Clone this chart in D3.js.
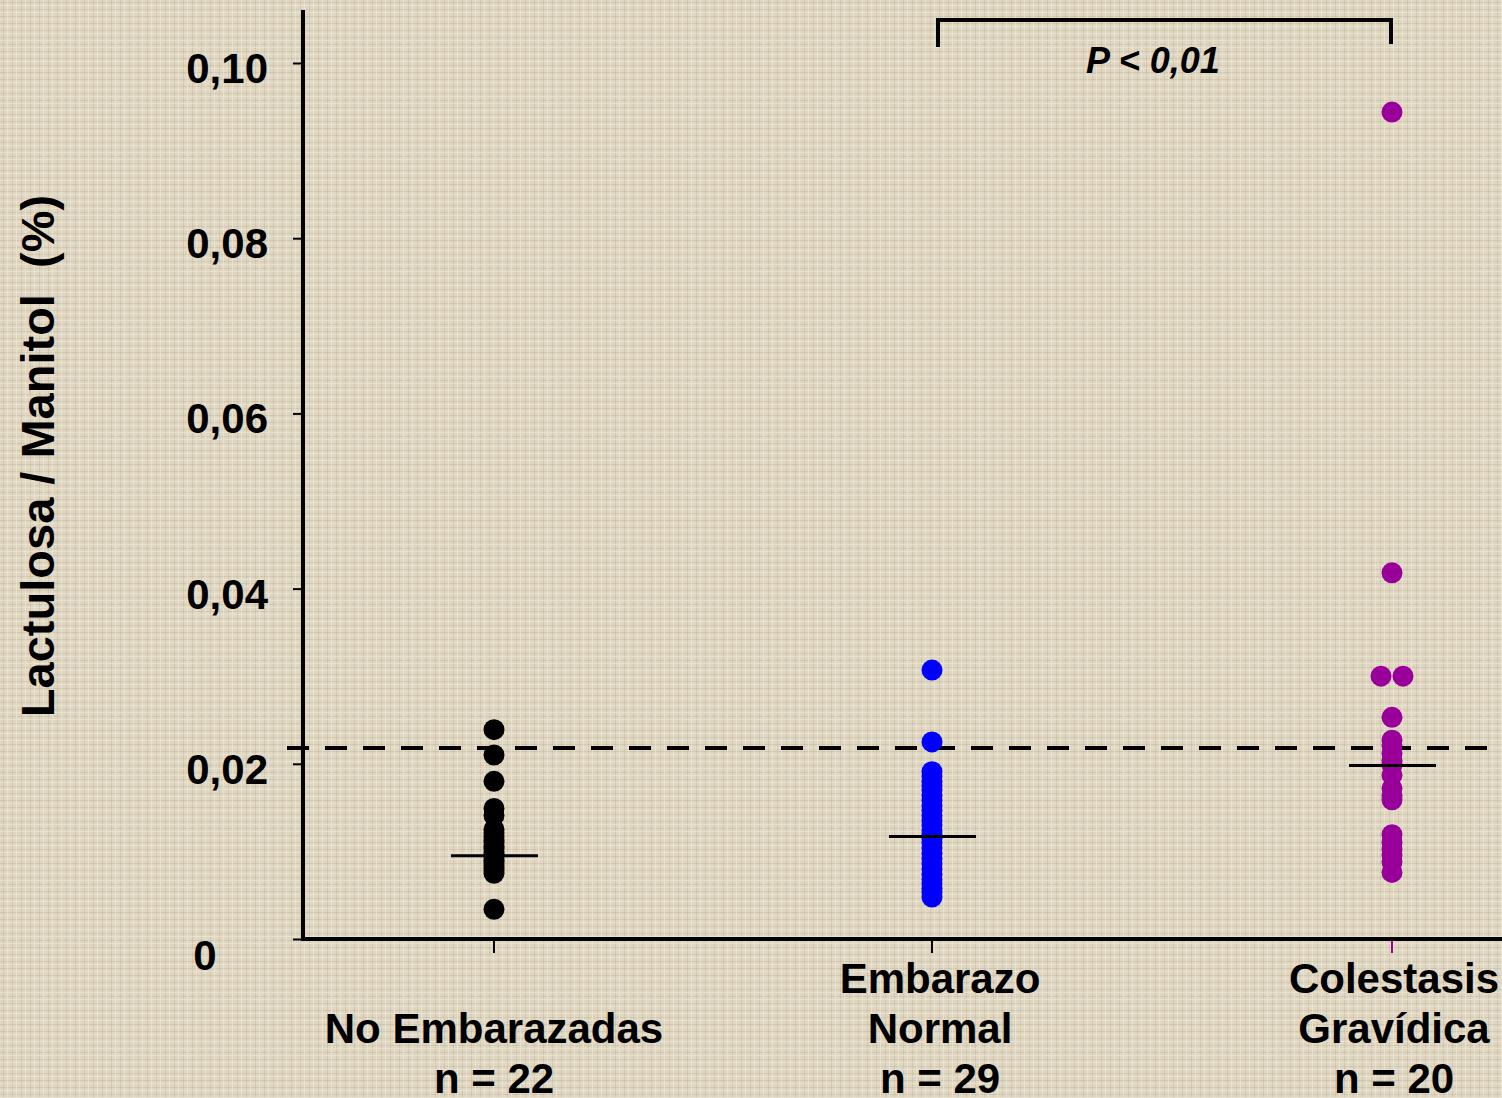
<!DOCTYPE html>
<html>
<head>
<meta charset="utf-8">
<script src="https://cdn.jsdelivr.net/npm/d3@7"></script>
<style>
  html, body { margin: 0; padding: 0; background: #ddd4bf; }
  svg { display: block; }
  text { font-family: "Liberation Sans", Arial, sans-serif; font-weight: bold; fill: #000; }
</style>
</head>
<body>
<script>
// ---- data ----
const categories = ["No Embarazadas", "Embarazo Normal", "Colestasis Gravídica"];
const labelLines = [["No Embarazadas", "n = 22"], ["Embarazo", "Normal", "n = 29"], ["Colestasis", "Gravídica", "n = 20"]];
const colors = ["#000000", "#0000ff", "#990099"];

const noEmbarazadas = [0.0239, 0.0210, 0.0180, 0.0149, 0.0141, 0.0125, 0.0121, 0.0117, 0.0113, 0.0110,
  0.0106, 0.0103, 0.0099, 0.0096, 0.0093, 0.0090, 0.0087, 0.0084, 0.0081, 0.0078, 0.0075, 0.0034];
const embarazoNormal = [0.0307, 0.0225, 0.0191, 0.0186, 0.0180, 0.0175, 0.0170, 0.0164, 0.0158, 0.0152,
  0.0147, 0.0141, 0.0135, 0.0130, 0.0124, 0.0119, 0.0115, 0.0110, 0.0104, 0.0098, 0.0092, 0.0086,
  0.0080, 0.0074, 0.0068, 0.0063, 0.0058, 0.0053, 0.0048];
const colestasis = [0.0944, 0.0418, 0.0300, 0.0300, 0.0253, 0.0227, 0.0221, 0.0212, 0.0204, 0.0199,
  0.0187, 0.0172, 0.0164, 0.0159, 0.0119, 0.0110, 0.0102, 0.0096, 0.0088, 0.0076];
const groups = [noEmbarazadas, embarazoNormal, colestasis];
const centerLines = [0.0095, 0.0117, 0.0198];
const referenceLine = 0.0218;
const yTicks = [0, 0.02, 0.04, 0.06, 0.08, 0.10];
const yTickLabels = ["0", "0,02", "0,04", "0,06", "0,08", "0,10"];
const pLabel = "P < 0,01";
const yTitle = "Lactulosa / Manitol\u00a0\u00a0(%)";

// ---- layout ----
const W = 1502, H = 1098;
const svg = d3.select("body").append("svg").attr("width", W).attr("height", H);

// background texture
const defs = svg.append("defs");
const pat = defs.append("pattern").attr("id", "linen").attr("width", 9).attr("height", 7)
  .attr("patternUnits", "userSpaceOnUse");
pat.append("rect").attr("width", 9).attr("height", 7).attr("fill", "#e0d7c3");
pat.append("rect").attr("x", 0).attr("y", 2).attr("width", 9).attr("height", 1).attr("fill", "#c9bda2").attr("opacity", 0.6);
pat.append("rect").attr("x", 3).attr("y", 0).attr("width", 1).attr("height", 7).attr("fill", "#c6b99d").attr("opacity", 0.55);
pat.append("rect").attr("x", 7).attr("y", 0).attr("width", 1).attr("height", 7).attr("fill", "#efe9dc").attr("opacity", 0.6);
pat.append("rect").attr("x", 0).attr("y", 5).attr("width", 9).attr("height", 1).attr("fill", "#ede7d8").attr("opacity", 0.6);
svg.append("rect").attr("width", W).attr("height", H).attr("fill", "url(#linen)");

const y = d3.scaleLinear().domain([0, 0.10]).range([939, 63]);
const x = d3.scaleOrdinal().domain(categories).range([494, 932, 1392]);
const axisX0 = 303, axisRight = W;

// y axis ticks (small, thin)
const yAxis = d3.axisLeft(y).tickValues(yTicks).tickSize(10).tickFormat("");
const gy = svg.append("g").attr("transform", `translate(${axisX0},0)`).call(yAxis);
gy.select(".domain").remove();
gy.selectAll(".tick line").attr("stroke", "#000").attr("stroke-width", 2);

// y tick labels
svg.append("g").selectAll("text").data(yTicks).join("text")
  .attr("x", (d, i) => i === 0 ? 205 : 268)
  .attr("y", (d, i) => y(d) + (i === 0 ? 31 : 20))
  .attr("text-anchor", (d, i) => i === 0 ? "middle" : "end")
  .attr("font-size", 42)
  .text((d, i) => yTickLabels[i]);

// x ticks
svg.append("g").selectAll("line").data(categories).join("line")
  .attr("x1", d => x(d)).attr("x2", d => x(d))
  .attr("y1", y(0)).attr("y2", y(0) + 14)
  .attr("stroke", (d, i) => i === 2 ? colors[2] : "#000").attr("stroke-width", 2);

// dashed reference line
svg.append("line")
  .attr("x1", 287).attr("x2", axisRight)
  .attr("y1", y(referenceLine)).attr("y2", y(referenceLine))
  .attr("stroke", "#000").attr("stroke-width", 4).attr("stroke-dasharray", "22,16");

// axes lines
svg.append("line").attr("x1", axisX0).attr("x2", axisX0).attr("y1", 10).attr("y2", y(0) + 2)
  .attr("stroke", "#000").attr("stroke-width", 4);
svg.append("line").attr("x1", axisX0 - 2).attr("x2", axisRight).attr("y1", y(0)).attr("y2", y(0))
  .attr("stroke", "#000").attr("stroke-width", 4);

// dots
groups.forEach((vals, gi) => {
  const cx = x(categories[gi]);
  const counts = d3.rollup(vals, v => v.length, d => d);
  const seen = new Map();
  const pts = vals.map(v => {
    const n = counts.get(v), k = seen.get(v) || 0;
    seen.set(v, k + 1);
    const off = n > 1 ? (k - (n - 1) / 2) * 22 : 0;
    return { v, cx: cx + off };
  });
  svg.append("g").selectAll("circle").data(pts).join("circle")
    .attr("cx", d => d.cx).attr("cy", d => y(d.v)).attr("r", 10.5)
    .attr("fill", colors[gi]);
});

// center lines
svg.append("g").selectAll("line").data(centerLines).join("line")
  .attr("x1", (d, i) => x(categories[i]) - 43).attr("x2", (d, i) => x(categories[i]) + 44)
  .attr("y1", d => y(d)).attr("y2", d => y(d))
  .attr("stroke", "#000").attr("stroke-width", 3);

// category labels
const labelShift = [0, 8, 2];
labelLines.forEach((lines, i) => {
  const cx = x(categories[i]) + labelShift[i];
  const n = lines.length;
  svg.append("text").attr("text-anchor", "middle").attr("font-size", 42)
    .selectAll("tspan").data(lines).join("tspan")
    .attr("x", cx).attr("y", (d, j) => 1093 - (n - 1 - j) * 50)
    .text(d => d);
});

// significance bracket
const bx1 = x(categories[1]) + 6, bx2 = x(categories[2]) - 1;
svg.append("path")
  .attr("d", `M${bx1},47 V20 H${bx2} V44`)
  .attr("fill", "none").attr("stroke", "#000").attr("stroke-width", 4);
svg.append("text").attr("x", 1153).attr("y", 73).attr("text-anchor", "middle")
  .attr("font-size", 36).attr("font-style", "italic").text(pLabel);

// y title
svg.append("text")
  .attr("transform", "translate(54,456) rotate(-90)")
  .attr("text-anchor", "middle").attr("font-size", 47)
  .text(yTitle);
</script>
</body>
</html>
